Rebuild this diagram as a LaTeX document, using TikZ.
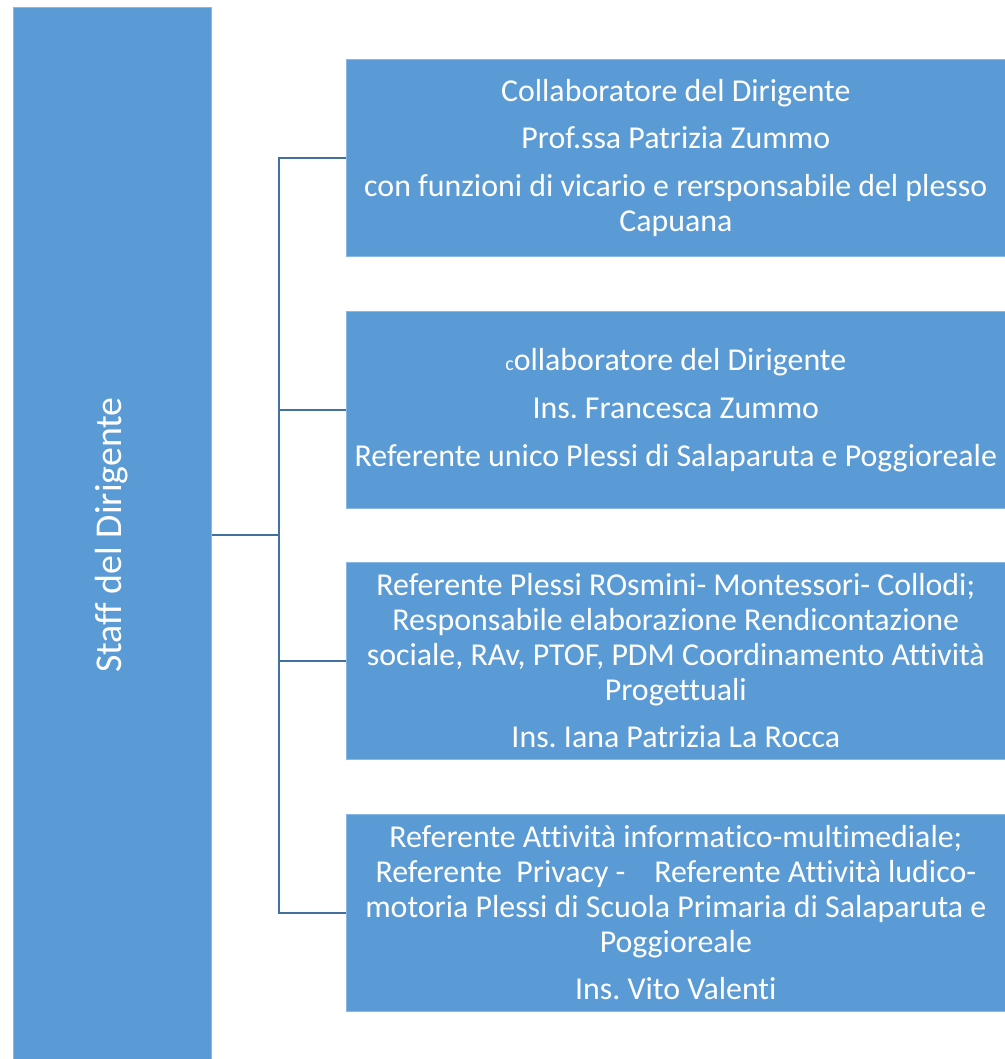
\documentclass[tikz,border=0pt]{standalone}
\usepackage{fontspec}
\setmainfont{Carlito}[Ligatures=NoCommon]
\frenchspacing
\definecolor{boxblue}{HTML}{5B9BD5}
\definecolor{boxedge}{HTML}{8AB8E6}
\definecolor{linkblue}{HTML}{41719C}
\begin{document}
\begin{tikzpicture}[x=1bp,y=-1bp,
  rbox/.style={fill=boxblue,draw=boxedge,line width=0.6bp,text=white,align=center,
    minimum width=659bp,minimum height=197bp,inner sep=0pt,anchor=north west,
    font=\fontsize{32}{35}\selectfont},
  link/.style={draw=linkblue,line width=2.2bp}]
\useasboundingbox (0,0) rectangle (1005,1059);
\fill[boxblue] (13,7) rectangle (211,1059);
\draw[boxedge,line width=0.6bp] (13,1059) -- (13,7) -- (211,7) -- (211,1059);
\node[text=white,rotate=90,font=\fontsize{38}{40}\selectfont] (staff) at (112,535) {Staff del Dirigente};
\coordinate (s) at (212,535);
\node[rbox] (b1) at (346,59) {Collaboratore del Dirigente\\[13bp]Prof.ssa Patrizia Zummo\\[13bp]con funzioni di vicario e rersponsabile del plesso\\Capuana};
\node[rbox] (b2) at (346,311) {{\fontsize{20}{22}\selectfont c}ollaboratore del Dirigente\\[13bp]Ins. Francesca Zummo\\[13bp]Referente unico Plessi di Salaparuta e Poggioreale};
\node[rbox] (b3) at (346,562) {Referente Plessi ROsmini- Montessori- Collodi;\\Responsabile elaborazione Rendicontazione\\sociale, RAv, PTOF, PDM Coordinamento Attività\\Progettuali\\[13bp]Ins. Iana Patrizia La Rocca};
\node[rbox] (b4) at (346,814) {Referente Attività informatico-multimediale;\\Referente\ \ Privacy -\ \ \ \ Referente Attività ludico-\\motoria Plessi di Scuola Primaria di Salaparuta e\\Poggioreale\\[13bp]Ins. Vito Valenti};
\coordinate (j) at (279,535);
\draw[link] (s) -- (j);
\draw[link] (b1.west) -| (j);
\draw[link] (b4.west) -| (j);
\draw[link] (b2.west) -- (b2.west -| j);
\draw[link] (b3.west) -- (b3.west -| j);
\end{tikzpicture}
\end{document}
